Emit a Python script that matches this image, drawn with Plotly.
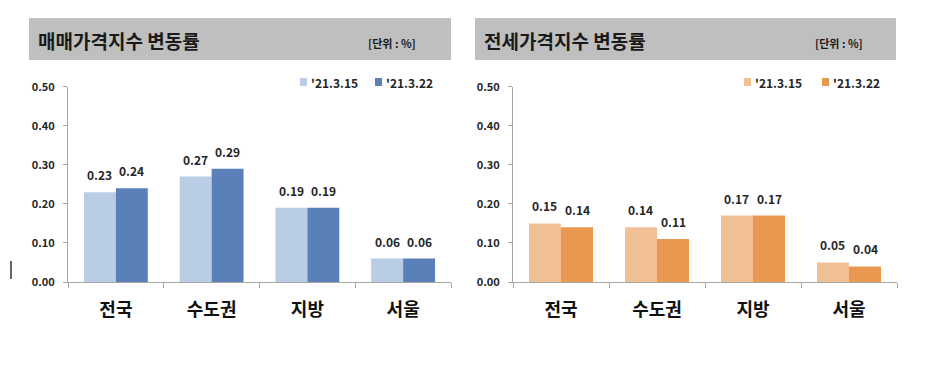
import plotly.graph_objects as go

categories = ["전국", "수도권", "지방", "서울"]
series_names = ["'21.3.15", "'21.3.22"]
sale_prev = [0.23, 0.27, 0.19, 0.06]
sale_curr = [0.24, 0.29, 0.19, 0.06]
jeonse_prev = [0.15, 0.14, 0.17, 0.05]
jeonse_curr = [0.14, 0.11, 0.17, 0.04]
y_ticks = [0.0, 0.1, 0.2, 0.3, 0.4, 0.5]
y_ticklabels = ["0.00", "0.10", "0.20", "0.30", "0.40", "0.50"]
titles = ["매매가격지수 변동률", "전세가격지수 변동률"]
unit_label = "[단위 : %]"

W, H = 936, 368
FONT = "Noto Sans CJK KR"
TXT = "#262626"
blue_light, blue_dark = "#B9CDE5", "#5B7FB8"
org_light, org_dark = "#F1C196", "#E8994F"
BARGAP = 0.333
X1_DOM = (68, 451)
X2_DOM = (513, 897)

def px(x):
    return x / W

def py(y):
    return 1 - y / H

fig = go.Figure()

def add_bars(vals, color, name, xa, ya):
    fig.add_trace(go.Bar(
        x=categories, y=vals, name=name, marker=dict(color=color, line=dict(width=0)),
        xaxis=xa, yaxis=ya, showlegend=False,
    ))

add_bars(sale_prev, blue_light, series_names[0], "x", "y")
add_bars(sale_curr, blue_dark, series_names[1], "x", "y")
add_bars(jeonse_prev, org_light, series_names[0], "x2", "y2")
add_bars(jeonse_curr, org_dark, series_names[1], "x2", "y2")

y_dom = [py(282), py(86.7)]
xaxis_common = dict(
    type="category", showline=True, linecolor="#A6A6A6", linewidth=1,
    ticks="outside", ticklen=5, tickcolor="#A6A6A6", tickson="boundaries",
    tickfont=dict(family=FONT, size=18, color="#111111", weight="bold"), ticklabelstandoff=11,
    showgrid=False, zeroline=False, fixedrange=True, automargin=False,
)
yaxis_common = dict(
    range=[0, 0.5], tickvals=y_ticks, ticktext=y_ticklabels,
    showline=True, linecolor="#A6A6A6", linewidth=1,
    ticks="outside", ticklen=4, tickcolor="#A6A6A6",
    tickfont=dict(family=FONT, size=11, color=TXT, weight="bold"), ticklabelstandoff=6,
    showgrid=False, zeroline=False, domain=y_dom, fixedrange=True, automargin=False,
)

fig.update_layout(
    width=W, height=H, margin=dict(l=0, r=0, t=0, b=0, autoexpand=False),
    paper_bgcolor="white", plot_bgcolor="white",
    barmode="group", bargap=BARGAP, bargroupgap=0,
    font=dict(family=FONT, color=TXT),
    xaxis=dict(domain=[px(X1_DOM[0]), px(X1_DOM[1])], anchor="y", **xaxis_common),
    yaxis=dict(anchor="x", **yaxis_common),
    xaxis2=dict(domain=[px(X2_DOM[0]), px(X2_DOM[1])], anchor="y2", **xaxis_common),
    yaxis2=dict(anchor="x2", **yaxis_common),
    showlegend=False,
)

shapes = []
annotations = []

# value labels above bars (positioned on the axes' own scales)
for (xr, yr, dom, prev, curr) in [("x", "y", X1_DOM, sale_prev, sale_curr),
                                  ("x2", "y2", X2_DOM, jeonse_prev, jeonse_curr)]:
    cat_w = (dom[1] - dom[0]) / len(categories)
    half_bar = cat_w * (1 - BARGAP) / 4
    for vals, sgn in [(prev, -1), (curr, 1)]:
        for c, v in zip(categories, vals):
            annotations.append(dict(xref=xr, yref=yr, x=c, y=v, xshift=sgn * half_bar,
                                    yshift=7, xanchor="center", yanchor="bottom",
                                    showarrow=False, text=f"{v:.2f}",
                                    font=dict(family=FONT, size=12, color=TXT, weight="bold")))

for (x0, x1) in [(29, 451), (475, 896)]:
    shapes.append(dict(type="rect", xref="paper", yref="paper",
                       x0=px(x0), x1=px(x1), y0=py(60), y1=py(18),
                       fillcolor="#BFBFBF", line=dict(width=0), layer="below"))
for i, (tx, ux) in enumerate([(36, 418), (482, 865)]):
    annotations.append(dict(xref="paper", yref="paper", x=px(tx), y=py(40),
                            xanchor="left", yanchor="middle", showarrow=False,
                            text=titles[i],
                            font=dict(family=FONT, size=19, color="#1A1A1A", weight="bold")))
    annotations.append(dict(xref="paper", yref="paper", x=px(ux), y=py(43),
                            xanchor="right", yanchor="middle", showarrow=False,
                            text=unit_label,
                            font=dict(family=FONT, size=11, color="#1A1A1A", weight="bold")))

# legend keys (squares + labels)
legend_items = [
    (300, blue_light, series_names[0]), (375, blue_dark, series_names[1]),
    (744, org_light, series_names[0]), (822, org_dark, series_names[1]),
]
for (lx, col, lab) in legend_items:
    shapes.append(dict(type="rect", xref="paper", yref="paper",
                       x0=px(lx), x1=px(lx + 7), y0=py(86), y1=py(78),
                       fillcolor=col, line=dict(width=0)))
    annotations.append(dict(xref="paper", yref="paper", x=px(lx + 9), y=py(82),
                            xanchor="left", yanchor="middle", showarrow=False,
                            text=lab,
                            font=dict(family=FONT, size=12, color=TXT, weight="bold")))

shapes.append(dict(type="line", xref="paper", yref="paper",
                   x0=px(11), x1=px(11), y0=py(279), y1=py(261),
                   line=dict(color="#333333", width=1.5)))
fig.update_layout(shapes=shapes, annotations=annotations)

fig.write_html("out.html", config={"displayModeBar": False},
               post_script="document.body.style.margin='0px';document.body.style.overflow='hidden';")
